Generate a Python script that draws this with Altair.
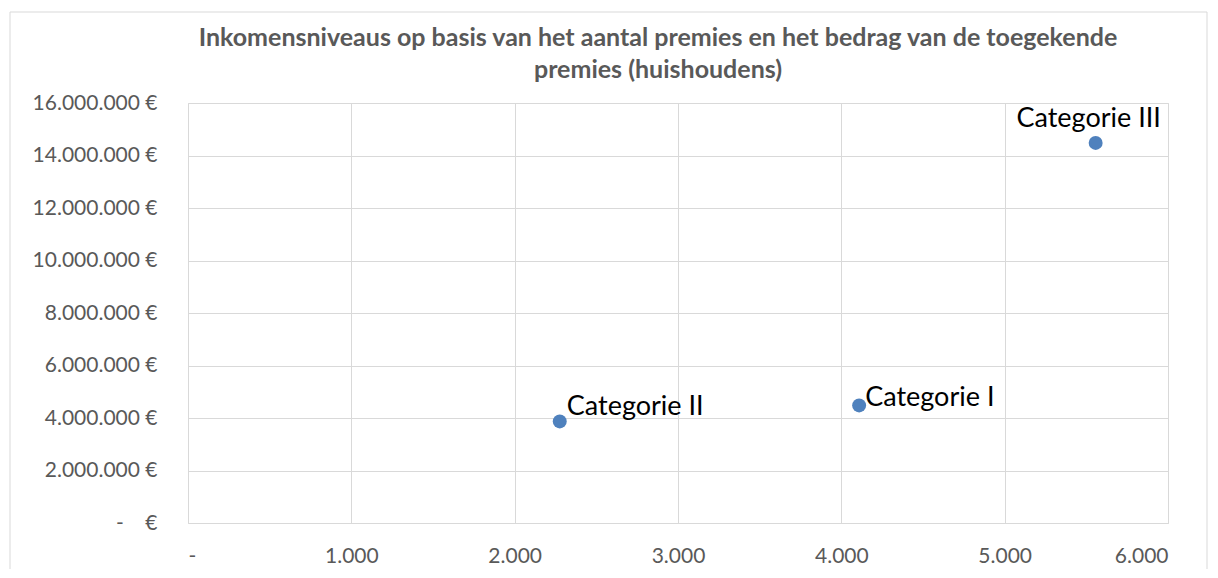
import altair as alt
import pandas as pd

categories = ["Categorie I", "Categorie II", "Categorie III"]
aantal_premies = [4109, 2276, 5557]
bedrag_premies = [4480000, 3870000, 14480000]

df = pd.DataFrame({"cat": categories, "n": aantal_premies, "bedrag": bedrag_premies})

FONT = "Lato"
GRID = "#d9d9d9"
LABEL = "#595959"

base = alt.Chart(df)

x = alt.X("n:Q", scale=alt.Scale(domain=[0, 6000], nice=False),
          axis=alt.Axis(title=None, values=[0, 1000, 2000, 3000, 4000, 5000, 6000],
                        labelExpr="datum.value == 0 ? '-' : replace(format(datum.value, ',.0f'), /,/g, '.')",
                        grid=True, gridColor=GRID, domain=False, ticks=False,
                        labelPadding=22, labelFont=FONT, labelFontSize=21, labelColor=LABEL))
y = alt.Y("bedrag:Q", scale=alt.Scale(domain=[0, 16000000], nice=False),
          axis=alt.Axis(title=None, values=[i * 2000000 for i in range(9)],
                        labelExpr="datum.value == 0 ? '-\u00a0\u00a0\u00a0\u00a0€' : replace(format(datum.value, ',.0f'), /,/g, '.') + ' €'",
                        grid=True, gridColor=GRID, domain=False, ticks=False,
                        labelPadding=31, labelFont=FONT, labelFontSize=21, labelColor=LABEL))

frame = base.mark_rect(fill=None, stroke=GRID, strokeWidth=1).encode(
    x=alt.value(-178), x2=alt.value(1019), y=alt.value(-91), y2=alt.value(600)
).transform_filter(alt.datum.cat == "Categorie I")

points = base.mark_circle(size=195, opacity=1, color="#4f81bd").encode(x=x, y=y)

lab1 = base.transform_filter(alt.datum.cat == "Categorie I").mark_text(
    align="left", baseline="alphabetic", dx=6, dy=1, font=FONT, fontSize=27, color="black"
).encode(x="n:Q", y="bedrag:Q", text="cat:N")
lab2 = base.transform_filter(alt.datum.cat == "Categorie II").mark_text(
    align="left", baseline="alphabetic", dx=7, dy=-6, font=FONT, fontSize=27, color="black"
).encode(x="n:Q", y="bedrag:Q", text="cat:N")
lab3 = base.transform_filter(alt.datum.cat == "Categorie III").mark_text(
    align="center", baseline="alphabetic", dx=-7, dy=-16, font=FONT, fontSize=27, color="black"
).encode(x="n:Q", y="bedrag:Q", text="cat:N")

chart = alt.layer(frame, points, lab1, lab2, lab3).properties(
    width=980, height=420,
    title=alt.TitleParams(
        text=["Inkomensniveaus op basis van het aantal premies en het bedrag van de toegekende",
              "premies (huishoudens)"],
        font=FONT, fontSize=25, fontWeight="bold", color=LABEL,
        anchor="middle", frame="group", dx=-20, offset=-71, lineHeight=32
    ),
    autosize=alt.AutoSizeParams(type="none"),
    padding={"left": 180, "top": 95, "right": 42, "bottom": 46},
).configure_view(stroke=GRID, strokeWidth=1).configure(background="white")

chart.save("out.html", embed_options={"renderer": "svg", "actions": False})
